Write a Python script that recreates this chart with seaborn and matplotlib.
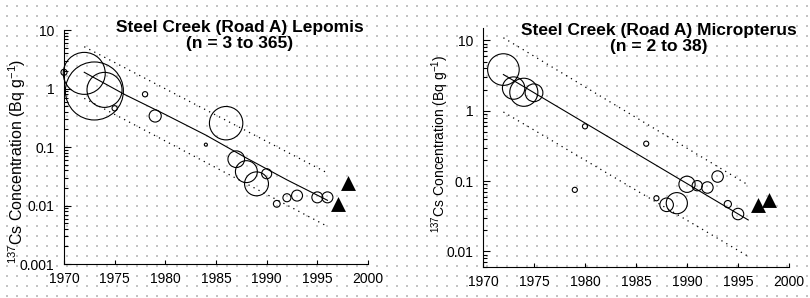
import numpy as np
import pandas as pd
import matplotlib.pyplot as plt
import matplotlib.ticker as mticker
import seaborn as sns

# Steel Creek (Road A) Lepomis
lep_year = [1970, 1972, 1973, 1974, 1975, 1978, 1979, 1984, 1986, 1987,
            1988, 1989, 1990, 1991, 1992, 1993, 1995, 1996]
lep_conc = [1.9, 1.82, 0.91, 0.95, 0.46, 0.8, 0.34, 0.11, 0.256, 0.062,
            0.038, 0.0235, 0.035, 0.0107, 0.0136, 0.0148, 0.0138, 0.0138]
lep_n = [4, 191, 365, 133, 3, 3, 16, 1, 121, 30,
         52, 62, 11, 5, 7, 13, 13, 13]
lep_tri_year = [1997, 1998]
lep_tri_conc = [0.0107, 0.0242]
lep_fit_year = [1972, 1976, 1980, 1984, 1988, 1992, 1996]
lep_fit_conc = [1.9, 0.79, 0.36, 0.16, 0.065, 0.0275, 0.0123]
lep_band_year = [1972, 1996]
lep_upper = [5.2, 0.036]
lep_lower = [0.68, 0.0044]

# Steel Creek (Road A) Micropterus
mic_year = [1972, 1973, 1974, 1975, 1979, 1980, 1986, 1987, 1988, 1989,
            1990, 1991, 1992, 1993, 1994, 1995]
mic_conc = [3.85, 2.1, 1.83, 1.8, 0.075, 0.6, 0.34, 0.057, 0.046, 0.0485,
            0.090, 0.086, 0.081, 0.116, 0.047, 0.034]
mic_n = [38, 19, 30, 12, 1, 1, 1, 1, 7, 17,
         10, 4, 5, 5, 2, 5]
mic_tri_year = [1997, 1998]
mic_tri_conc = [0.046, 0.054]
mic_fit_year = [1972, 1996]
mic_fit_conc = [3.27, 0.028]
mic_band_year = [1972, 1996]
mic_upper = [10.9, 0.088]
mic_lower = [0.96, 0.0085]

plt.rcParams['font.family'] = ['Liberation Sans', 'DejaVu Sans']
plt.rcParams['mathtext.fontset'] = 'custom'
plt.rcParams['mathtext.rm'] = 'Liberation Sans'
plt.rcParams['mathtext.it'] = 'Liberation Sans:italic'

fig = plt.figure(figsize=(8.1, 2.98), dpi=100)

# dotted page background
bg = fig.add_axes([0, 0, 1, 1], zorder=-1)
bg.set_xlim(0, 810)
bg.set_ylim(0, 298)
bg.axis('off')
gx, gy = np.meshgrid(np.arange(7, 810, 10), np.arange(2, 298, 10))
bg.scatter(gx.ravel(), gy.ravel(), s=0.7, marker='s', color='#c4c4c4', linewidths=0)


def draw_panel(ax, year, conc, n, n_max, s_max, tri_year, tri_conc,
               fit_year, fit_conc, band_year, upper, lower):
    ax.set_yscale('log')
    df = pd.DataFrame({'year': year, 'conc': conc, 'n': n})
    sns.scatterplot(data=df, x='year', y='conc', size='n', sizes=(0, s_max),
                    size_norm=(0, n_max), facecolor='none', edgecolor='black',
                    linewidth=0.8, legend=False, ax=ax, zorder=3, clip_on=False)
    sns.lineplot(x=fit_year, y=fit_conc, color='black', lw=0.8, ax=ax, zorder=2)
    sns.lineplot(x=band_year, y=upper, color='black', lw=0.9,
                 linestyle=(0, (1, 3.5)), ax=ax, zorder=2)
    sns.lineplot(x=band_year, y=lower, color='black', lw=0.9,
                 linestyle=(0, (1, 3.5)), ax=ax, zorder=2)
    sns.scatterplot(x=tri_year, y=tri_conc, marker='^', color='black', s=115,
                    linewidth=0, ax=ax, zorder=4)
    ax.patch.set_alpha(0)
    ax.set_xlim(1970, 2000)
    ax.set_xticks(range(1970, 2001, 5))
    ax.yaxis.set_major_locator(mticker.LogLocator(base=10))
    ax.yaxis.set_minor_locator(mticker.LogLocator(base=10, subs=np.arange(2, 10)))
    ax.yaxis.set_major_formatter(mticker.FuncFormatter(lambda v, _: f'{v:g}'))
    ax.yaxis.set_minor_formatter(mticker.NullFormatter())
    ax.tick_params(axis='y', which='major', direction='in', length=5, width=0.8,
                   pad=7, labelsize=10)
    ax.tick_params(axis='y', which='minor', direction='in', length=3, width=0.8)
    ax.tick_params(axis='x', direction='in', length=3, width=0.8, pad=6,
                   labelsize=10)
    for side in ['top', 'right']:
        ax.spines[side].set_visible(False)
    for side in ['left', 'bottom']:
        ax.spines[side].set_linewidth(0.8)
    ax.set_xlabel('')


ylab = r'$^{137}$Cs Concentration (Bq g$^{-1}$)'

ax1 = fig.add_axes([0.079, 0.114, 0.3753, 0.785])
draw_panel(ax1, lep_year, lep_conc, lep_n, 365, 1745, lep_tri_year, lep_tri_conc,
           lep_fit_year, lep_fit_conc, lep_band_year, lep_upper, lep_lower)
ax1.set_ylim(0.001, 10)
ax1.set_ylabel(ylab, fontsize=11.5)
ax1.yaxis.set_label_coords(-0.118, 0.44)
fig.text(240 / 810, 1 - 35.5 / 298, 'Steel Creek (Road A) Lepomis\n(n = 3 to 365)',
         ha='center', va='center', fontsize=12.5, fontweight='bold', linespacing=1.1)

ax2 = fig.add_axes([0.5963, 0.104, 0.3778, 0.802])
draw_panel(ax2, mic_year, mic_conc, mic_n, 38, 518, mic_tri_year, mic_tri_conc,
           mic_fit_year, mic_fit_conc, mic_band_year, mic_upper, mic_lower)
ax2.set_ylim(0.006, 15)
ax2.set_ylabel(ylab, fontsize=10)
ax2.yaxis.set_label_coords(-0.105, 0.515)
fig.text(659 / 810, 1 - 38.5 / 298, 'Steel Creek (Road A) Micropterus\n(n = 2 to 38)',
         ha='center', va='center', fontsize=12.5, fontweight='bold', linespacing=1.1)

fig.savefig('out.png', dpi=100, facecolor='white')
